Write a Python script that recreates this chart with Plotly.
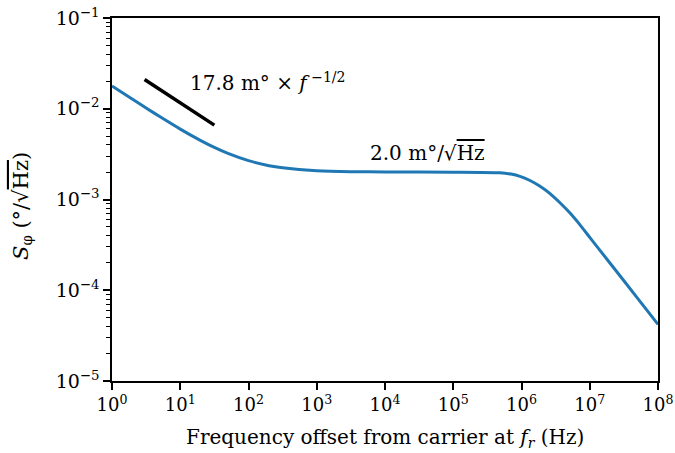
import plotly.graph_objects as go

# Data
freq = [1, 2, 3.16, 5, 10, 20, 31.6, 50, 100, 200, 316, 1e3, 3.16e3, 1e4, 1e5,
        4.8e5, 7e5, 9.5e5, 1.33e6, 1.87e6, 2.62e6, 3.66e6, 5.14e6, 7.2e6, 1e7, 2e7, 5e7, 1e8]
s_phi = [1.78e-2, 1.275e-2, 1.02e-2, 8.2e-3, 5.97e-3, 4.46e-3, 3.75e-3, 3.22e-3,
         2.68e-3, 2.36e-3, 2.24e-3, 2.08e-3, 2.025e-3, 2.01e-3, 2.0e-3,
         1.97e-3, 1.905e-3, 1.80e-3, 1.62e-3, 1.40e-3, 1.16e-3, 9.2e-4, 7.08e-4, 5.25e-4,
         3.83e-4, 1.97e-4, 8.2e-5, 4.2e-5]

guide_f = [3, 31.6]
guide_s = [2.1e-2, 6.6e-3]

x_ticks = [1e0, 1e1, 1e2, 1e3, 1e4, 1e5, 1e6, 1e7, 1e8]
x_tick_text = ["10<sup>0</sup>", "10<sup>1</sup>", "10<sup>2</sup>", "10<sup>3</sup>",
               "10<sup>4</sup>", "10<sup>5</sup>", "10<sup>6</sup>", "10<sup>7</sup>",
               "10<sup>8</sup>"]
y_ticks = [1e-5, 1e-4, 1e-3, 1e-2, 1e-1]
y_tick_text = ["10<sup>−5</sup>", "10<sup>−4</sup>", "10<sup>−3</sup>",
               "10<sup>−2</sup>", "10<sup>−1</sup>"]

FONT = "DejaVu Serif"

y_minor = [m * 10.0 ** e for e in range(-5, -1) for m in range(2, 10)]

fig = go.Figure()
fig.add_trace(go.Scatter(x=freq, y=s_phi, mode="lines",
                         line=dict(color="#1f77b4", width=3, shape="spline", smoothing=0.6),
                         showlegend=False, hoverinfo="skip"))
fig.add_trace(go.Scatter(x=guide_f, y=guide_s, mode="lines", line=dict(color="black", width=3.5),
                         showlegend=False, hoverinfo="skip"))

fig.add_annotation(x=1.11, y=-1.705, xref="x", yref="y", xanchor="left", yanchor="middle",
                   text="17.8 m° × <i>f</i><sup> −1/2</sup>", showarrow=False,
                   font=dict(family=FONT, size=20, color="black"))
fig.add_annotation(x=3.75, y=-2.49, xref="x", yref="y", xanchor="left", yanchor="middle",
                   text="2.0 m°/√<span style='text-decoration:overline'>Hz</span>", showarrow=False,
                   font=dict(family=FONT, size=20, color="black"))

# axis titles
fig.add_annotation(x=0.5, y=-0.157, xref="paper", yref="paper", xanchor="center", yanchor="middle",
                   text="Frequency offset from carrier at <i>f<sub>r</sub></i> (Hz)", showarrow=False,
                   font=dict(family=FONT, size=20, color="black"))
fig.add_annotation(x=-0.165, y=0.482, xref="paper", yref="paper", xanchor="center", yanchor="middle",
                   textangle=-90,
                   text="<i>S</i><sub>φ</sub> (°/√<span style='text-decoration:overline'>Hz</span>)",
                   showarrow=False, font=dict(family=FONT, size=21, color="black"))

fig.update_layout(
    width=675, height=453,
    margin=dict(l=112, r=17, t=18, b=72),
    paper_bgcolor="white", plot_bgcolor="white",
    font=dict(family=FONT, size=18, color="black"),
    xaxis=dict(type="log", range=[0, 8], tickvals=x_ticks, ticktext=x_tick_text,
               ticks="outside", ticklen=7, tickwidth=1.5, tickcolor="black",
               tickfont=dict(family=FONT, size=18, color="black"),
               ticklabeloverflow="allow",
               showline=True, linecolor="black", linewidth=1.5, mirror=True,
               showgrid=False, zeroline=False, automargin=False),
    yaxis=dict(type="log", range=[-5, -1], tickvals=y_ticks, ticktext=y_tick_text,
               ticks="outside", ticklen=7, tickwidth=1.5, tickcolor="black",
               tickfont=dict(family=FONT, size=19, color="black"),
               ticklabeloverflow="allow",
               showline=True, linecolor="black", linewidth=1.5, mirror=True,
               showgrid=False, zeroline=False, automargin=False,
               minor=dict(tickvals=y_minor, ticks="outside", ticklen=4, tickwidth=1,
                          tickcolor="black", showgrid=False)),
)

# remove the page's default body margin so the figure sits at the window's top-left corner
fig.write_html("out.html", config={"displayModeBar": False},
               post_script="document.body.style.margin='0';document.body.style.padding='0';")
